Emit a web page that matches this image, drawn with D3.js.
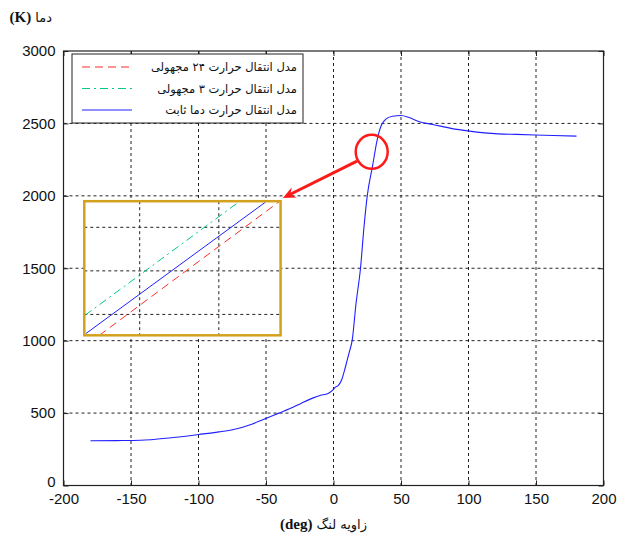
<!DOCTYPE html>
<html><head><meta charset="utf-8">
<script src="https://cdn.jsdelivr.net/npm/d3@7"></script>
<style>body{margin:0;background:#fff}svg{display:block}</style>
</head><body>
<svg id="c" width="617" height="538"></svg>
<script>
// ---- data ----
const angle = [-180,-160,-143,-120,-100,-85,-74,-60,-52,-41,-30,-24,-15,-10,-4,0,1.2,3.5,6.3,8,10,11.8,13.8,16.7,20,22.6,25,28.8,32.6,35,37.6,40.5,43.8,50,56,63.7,73.6,87,100.7,121.8,135.5,162.8,180];
const tempConst = [309,310,312,330,352,370,387,425,456,498,540,567,605,622,636,664,678,690,735,790,860,925,1000,1258,1500,1787,2000,2200,2397,2477,2518,2540,2550,2555,2541,2511,2493,2466,2447,2428,2424,2417,2412];
const xTicks = [-200,-150,-100,-50,0,50,100,150,200];
const yTicks = [0,500,1000,1500,2000,2500,3000];
const legendLabels = ["مدل انتقال حرارت ۲۴ مجهولی","مدل انتقال حرارت ۳ مجهولی","مدل انتقال حرارت دما ثابت"];
const seriesColors = ["#ff2a2a","#00c98a","#2020ff"];
// zoomed inset data (angle, temperature)
const insetAngle24 = [29.49,31.77]; const insetTemp24 = [2176,2330];
const insetAngle3  = [29.31,31.25]; const insetTemp3  = [2199,2329];
const insetAngleC  = [29.32,31.59]; const insetTempC  = [2178,2329];
const insetXTicks = [30,31]; const insetYTicks = [2200,2250,2300];
// annotation positions (data coords)
const insetBoxX = [-184.6,-39.2]; const insetBoxY = [1037,1963];
const circleAt = [28.3,2304];
const arrowFrom = [17.4,2240]; const arrowTo = [-37.5,1985];

const svg = d3.select("#c");
const L=63.5,R=603.5,T=51,B=485.5;
const x = d3.scaleLinear().domain([-200,200]).range([L,R]);
const y = d3.scaleLinear().domain([0,3000]).range([B,T]);
const font = "'Liberation Sans', Arial, sans-serif";
const fa = "'DejaVu Sans', sans-serif";
const fmt = d => String(d);

// grid
const g = svg.append("g");
g.selectAll(".gx").data(xTicks.slice(1,-1)).enter().append("line")
 .attr("x1",d=>x(d)).attr("x2",d=>x(d)).attr("y1",T).attr("y2",B)
 .attr("stroke","#222").attr("stroke-dasharray","3,3").attr("stroke-width",1);
g.selectAll(".gy").data(yTicks.slice(1,-1)).enter().append("line")
 .attr("y1",d=>y(d)).attr("y2",d=>y(d)).attr("x1",L).attr("x2",R)
 .attr("stroke","#222").attr("stroke-dasharray","3,3").attr("stroke-width",1);

// axes
const axB = svg.append("g").attr("transform",`translate(0,${B})`)
 .call(d3.axisBottom(x).tickValues(xTicks).tickSize(-5).tickPadding(9).tickFormat(fmt));
const axT = svg.append("g").attr("transform",`translate(0,${T})`)
 .call(d3.axisTop(x).tickValues(xTicks).tickSize(-5).tickFormat(""));
const axL = svg.append("g").attr("transform",`translate(${L},0)`)
 .call(d3.axisLeft(y).tickValues(yTicks).tickSize(-5).tickPadding(8).tickFormat(fmt));
const axR = svg.append("g").attr("transform",`translate(${R},0)`)
 .call(d3.axisRight(y).tickValues(yTicks).tickSize(-5).tickFormat(""));
[axB,axT,axL,axR].forEach(a=>{
  a.select(".domain").remove();
  a.selectAll("line").attr("stroke","#222");
  a.selectAll("text").attr("font-family",font).attr("font-size",15).attr("fill","#111");
});
axB.selectAll("text").attr("dy","0.62em");
axL.selectAll("text").filter(d=>d===0).attr("dy","0.05em");
svg.append("rect").attr("x",L).attr("y",T).attr("width",R-L).attr("height",B-T)
 .attr("fill","none").attr("stroke","#222").attr("stroke-width",1.2);

// main curve
const line = d3.line().x((d,i)=>x(angle[i])).y(d=>y(d)).curve(d3.curveMonotoneX);
svg.append("path").datum(tempConst).attr("d",line).attr("fill","none")
 .attr("stroke",seriesColors[2]).attr("stroke-width",1.1);

// legend
const lg = svg.append("g");
lg.append("rect").attr("x",72).attr("y",54).attr("width",231).attr("height",69)
 .attr("fill","#fff").attr("stroke","#222").attr("stroke-width",1);
const dashes = ["8,5","8,4,2,4",null];
legendLabels.forEach((t,i)=>{
  const yy = 67 + i*21.5;
  lg.append("line").attr("x1",82).attr("x2",132).attr("y1",yy).attr("y2",yy)
    .attr("stroke",seriesColors[i]).attr("stroke-width",1.1).attr("stroke-dasharray",dashes[i]);
  lg.append("text").attr("x",297).attr("y",yy+4).attr("text-anchor","end")
    .attr("font-family",fa).attr("font-size",11.5).attr("fill","#111").text(t);
});

// inset
const bx0=x(insetBoxX[0]), bx1=x(insetBoxX[1]), by0=y(insetBoxY[1]), by1=y(insetBoxY[0]);
const ix = d3.scaleLinear().domain([29.3,31.78]).range([bx0,bx1]);
const iy = d3.scaleLinear().domain([2176,2330]).range([by1,by0]);
const ins = svg.append("g");
ins.append("rect").attr("x",bx0).attr("y",by0).attr("width",bx1-bx0).attr("height",by1-by0).attr("fill","#fff");
ins.selectAll(".ix").data(insetXTicks).enter().append("line")
 .attr("x1",d=>ix(d)).attr("x2",d=>ix(d)).attr("y1",by0).attr("y2",by1)
 .attr("stroke","#222").attr("stroke-dasharray","3,3");
ins.selectAll(".iy").data(insetYTicks).enter().append("line")
 .attr("y1",d=>iy(d)).attr("y2",d=>iy(d)).attr("x1",bx0).attr("x2",bx1)
 .attr("stroke","#222").attr("stroke-dasharray","3,3");
const insetSeries = [[insetAngle24,insetTemp24],[insetAngle3,insetTemp3],[insetAngleC,insetTempC]];
insetSeries.forEach((s,i)=>{
  ins.append("line").attr("x1",ix(s[0][0])).attr("y1",iy(s[1][0])).attr("x2",ix(s[0][1])).attr("y2",iy(s[1][1]))
   .attr("stroke",seriesColors[i]).attr("stroke-width",1).attr("stroke-dasharray",dashes[i]);
});
ins.append("rect").attr("x",bx0).attr("y",by0).attr("width",bx1-bx0).attr("height",by1-by0)
 .attr("fill","none").attr("stroke","#d4a11c").attr("stroke-width",2.5);

// circle and arrow
svg.append("ellipse").attr("cx",x(circleAt[0])).attr("cy",y(circleAt[1])).attr("rx",16).attr("ry",17)
 .attr("fill","none").attr("stroke","#ff1a1a").attr("stroke-width",2.5);
const ax0=x(arrowFrom[0]), ay0=y(arrowFrom[1]), ax1=x(arrowTo[0]), ay1=y(arrowTo[1]);
svg.append("line").attr("x1",ax0).attr("y1",ay0).attr("x2",ax1+6).attr("y2",ay1-3)
 .attr("stroke","#ff1a1a").attr("stroke-width",3);
const ang = Math.atan2(ay1-ay0, ax1-ax0);
const hl=14, hw=0.42;
svg.append("path").attr("d",`M${ax1},${ay1} L${ax1-hl*Math.cos(ang-hw)},${ay1-hl*Math.sin(ang-hw)} L${ax1-hl*0.6*Math.cos(ang)},${ay1-hl*0.6*Math.sin(ang)} L${ax1-hl*Math.cos(ang+hw)},${ay1-hl*Math.sin(ang+hw)} Z`)
 .attr("fill","#ff1a1a");

// axis titles
svg.append("text").attr("x",52).attr("y",22).attr("direction","rtl").attr("text-anchor","start")
 .attr("font-family",fa).attr("font-size",13).attr("fill","#111")
 .html('دما <tspan font-weight="bold" font-family="Liberation Serif, serif" font-size="15">(K)</tspan>');
svg.append("text").attr("x",367).attr("y",529).attr("direction","rtl").attr("text-anchor","start")
 .attr("font-family",fa).attr("font-size",13).attr("fill","#111")
 .html('زاویه لنگ <tspan font-weight="bold" font-family="Liberation Serif, serif" font-size="15">(deg)</tspan>');
</script>
</body></html>
